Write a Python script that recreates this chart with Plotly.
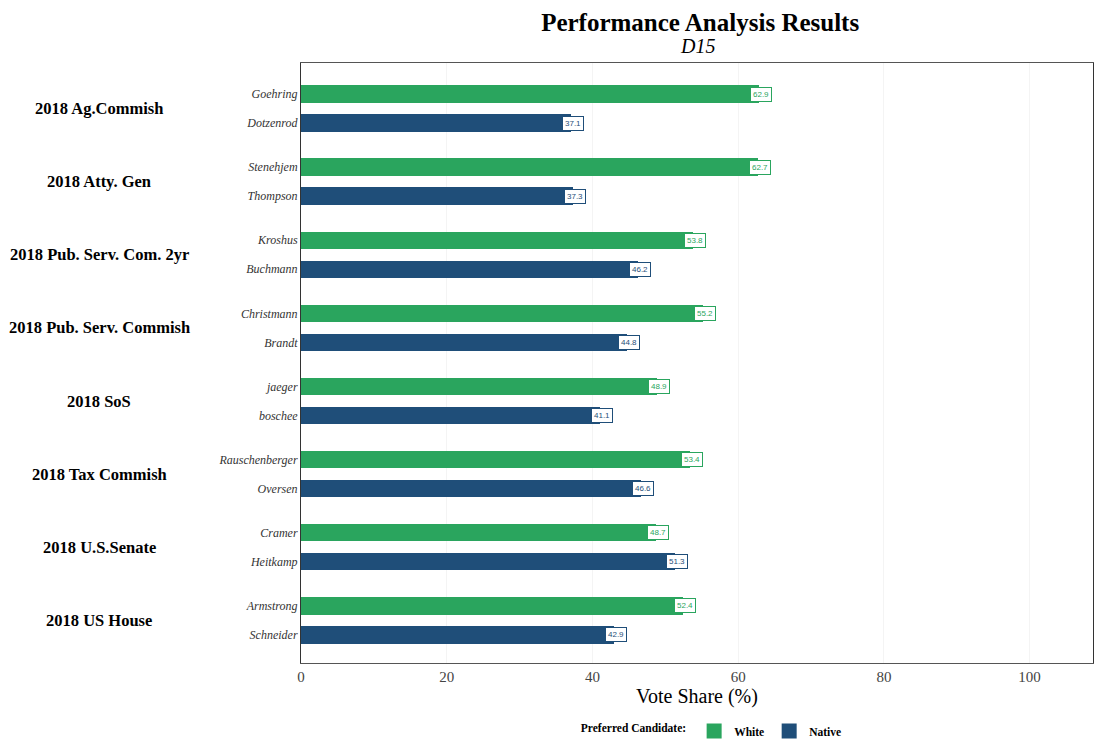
import plotly.graph_objects as go

races = ["2018 Ag.Commish", "2018 Atty. Gen", "2018 Pub. Serv. Com. 2yr",
         "2018 Pub. Serv. Commish", "2018 SoS", "2018 Tax Commish",
         "2018 U.S.Senate", "2018 US House"]
white_cands = ["Goehring", "Stenehjem", "Kroshus", "Christmann", "jaeger",
               "Rauschenberger", "Cramer", "Armstrong"]
native_cands = ["Dotzenrod", "Thompson", "Buchmann", "Brandt", "boschee",
                "Oversen", "Heitkamp", "Schneider"]
white_vals = [62.9, 62.7, 53.8, 55.2, 48.9, 53.4, 48.7, 52.4]
native_vals = [37.1, 37.3, 46.2, 44.8, 41.1, 46.6, 51.3, 42.9]

GREEN = "#2aa55e"
NAVY = "#1f4e79"
SERIF = "Liberation Serif"

step = 2.52
y_white = [i * step for i in range(len(races))]
y_native = [y + 1 for y in y_white]

fig = go.Figure()
fig.add_trace(go.Bar(x=white_vals, y=y_white, orientation="h", name="White",
                     marker=dict(color=GREEN, line=dict(width=0)), width=0.6,
                     hoverinfo="x", showlegend=False))
fig.add_trace(go.Bar(x=native_vals, y=y_native, orientation="h", name="Native",
                     marker=dict(color=NAVY, line=dict(width=0)), width=0.6,
                     hoverinfo="x", showlegend=False))
# legend keys
fig.add_trace(go.Scatter(x=[None], y=[None], mode="markers", name="White",
                         marker=dict(symbol="square", size=15, color=GREEN)))
fig.add_trace(go.Scatter(x=[None], y=[None], mode="markers", name="Native",
                         marker=dict(symbol="square", size=15, color=NAVY)))

annotations = []
for v, y in zip(white_vals, y_white):
    annotations.append(dict(x=v, y=y, xref="x", yref="y", text=f"{v:.1f}",
                            showarrow=False, font=dict(size=8, color=GREEN, family="Arial"),
                            bgcolor="white", bordercolor=GREEN, borderwidth=1,
                            borderpad=2, xanchor="center", xshift=2))
for v, y in zip(native_vals, y_native):
    annotations.append(dict(x=v, y=y, xref="x", yref="y", text=f"{v:.1f}",
                            showarrow=False, font=dict(size=8, color=NAVY, family="Arial"),
                            bgcolor="white", bordercolor=NAVY, borderwidth=1,
                            borderpad=2, xanchor="center", xshift=2))
for r, yw, yn in zip(races, y_white, y_native):
    annotations.append(dict(x=-0.255, y=(yw + yn) / 2, xref="paper", yref="y",
                            text=f"<b>{r}</b>", showarrow=False, xanchor="center",
                            font=dict(size=16.5, family=SERIF, color="black")))
annotations.append(dict(x=0.5, y=1.0, xref="paper", yref="paper", yanchor="bottom",
                        yshift=4, text="<i>D15</i>", showarrow=False,
                        font=dict(size=20, family=SERIF, color="black")))

tickvals = []
ticktext = []
for w, n, yw, yn in zip(white_cands, native_cands, y_white, y_native):
    tickvals += [yw, yn]
    ticktext += [w, n]

fig.update_layout(
    width=1094, height=740,
    margin=dict(l=301, r=1, t=63, b=77),
    paper_bgcolor="white", plot_bgcolor="white",
    title=dict(text="<b>Performance Analysis Results</b>", x=0.64, xanchor="center",
               y=0.97, yanchor="middle",
               font=dict(size=25, family=SERIF, color="black")),
    barmode="overlay",
    bargap=0,
    showlegend=True,
    legend=dict(orientation="h", x=0.52, xanchor="center", y=0.012, yanchor="middle",
                yref="container",
                title=dict(text="<b>Preferred Candidate:</b>", font=dict(size=11.5, family=SERIF)),
                font=dict(size=11.5, family=SERIF, color="black", weight="bold"),
                itemwidth=30),
    annotations=annotations,
    font=dict(family=SERIF),
)
fig.update_xaxes(range=[0, 108.7], tickvals=[0, 20, 40, 60, 80, 100],
                 tickfont=dict(size=15, family=SERIF, color="#444444"),
                 title=dict(text="Vote Share (%)", font=dict(size=20, family=SERIF, color="black"),
                            standoff=2),
                 showgrid=True, gridcolor="#f4f4f4", zeroline=False,
                 showline=True, linecolor="#555555", linewidth=1, mirror=True,
                 ticks="", fixedrange=True)
fig.update_yaxes(range=[y_native[-1] + 0.97, -1.07], tickvals=tickvals, ticktext=ticktext,
                 tickfont=dict(size=12, family=SERIF, color="#333333", style="italic"),
                 showgrid=False, zeroline=False, showline=True, linecolor="#333333",
                 linewidth=1, mirror=True, ticks="", ticklen=3, fixedrange=True)

fig.write_html("out.html", config={"displayModeBar": False},
               post_script="document.body.style.margin='0';")
